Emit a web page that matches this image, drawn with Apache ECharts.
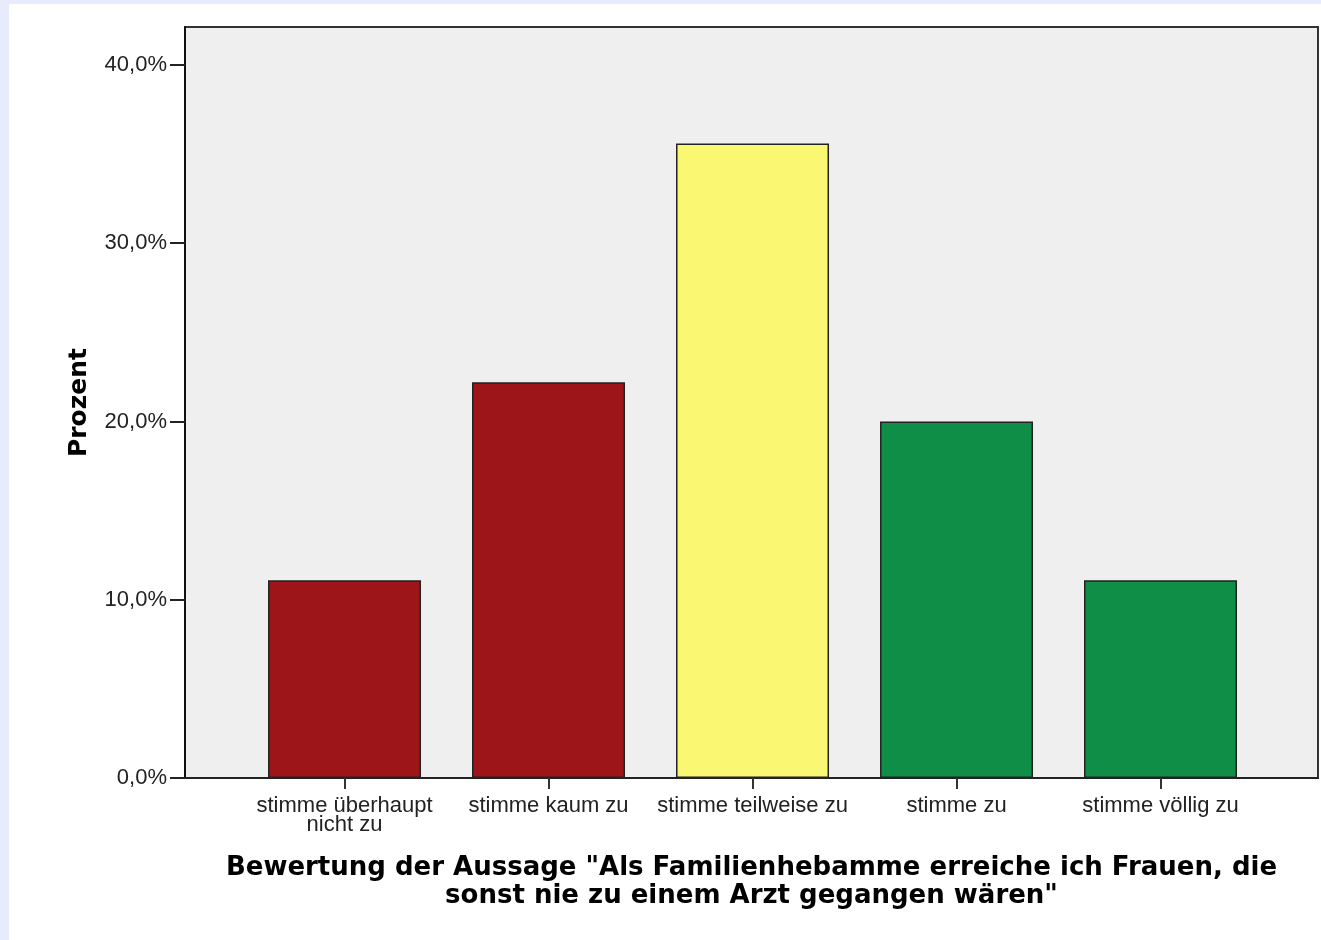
<!DOCTYPE html>
<html>
<head>
<meta charset="utf-8">
<script src="https://cdn.jsdelivr.net/npm/echarts@6/dist/echarts.min.js"></script>
<style>
    html, body {
        margin: 0;
        padding: 0;
        background: #e6ecfb;
    }
    .paper {
        position: absolute;
        left: 9px;
        top: 4px;
        right: 0;
        bottom: 0;
        background: #ffffff;
    }
    #chart {
        position: absolute;
        left: 0;
        top: 0;
        width: 1321px;
        height: 940px;
    }
</style>
</head>
<body>
<div class="paper"></div>
<div id="chart"></div>
<script>
// Werte (Prozent) je Antwortkategorie
const categories = [
    "stimme überhaupt\nnicht zu",
    "stimme kaum zu",
    "stimme teilweise zu",
    "stimme zu",
    "stimme völlig zu"
];
const percents = [11.1, 22.2, 35.6, 20.0, 11.1];
const barColors = ["#9e1519", "#9e1519", "#faf773", "#0f8e48", "#0f8e48"];
const yTicks = [0, 10, 20, 30, 40];
const xTitle = 'Bewertung der Aussage "Als Familienhebamme erreiche ich Frauen, die\nsonst nie zu einem Arzt gegangen wären"';
const yTitle = "Prozent";

const positions = categories.map((c, i) => i);

const chartInstance = echarts.init(document.getElementById("chart"), null, {renderer: "canvas"});

const option = {
    animation: false,
    grid: {
        left: 185,
        right: 3,
        top: 27,
        bottom: 162,
        show: true,
        backgroundColor: "#efefef",
        borderColor: "#333333",
        borderWidth: 2
    },
    xAxis: {
        type: "value",
        min: -0.782,
        max: 4.772,
        splitLine: {show: false},
        axisLine: {
            onZero: false,
            lineStyle: {color: "#222222", width: 2}
        },
        axisTick: {
            show: true,
            length: 11,
            customValues: positions,
            lineStyle: {color: "#333333", width: 2}
        },
        axisLabel: {
            customValues: positions,
            margin: 18,
            color: "#222222",
            fontFamily: "Liberation Sans",
            fontSize: 22,
            lineHeight: 19,
            formatter: (v) => categories[Math.round(v)]
        },
        name: xTitle,
        nameLocation: "middle",
        nameGap: 76,
        nameTextStyle: {
            color: "#000000",
            fontFamily: "DejaVu Sans",
            fontWeight: "bold",
            fontSize: 26,
            lineHeight: 28,
            verticalAlign: "top"
        }
    },
    yAxis: {
        type: "value",
        min: 0,
        max: 42.13,
        splitLine: {show: false},
        axisLine: {
            show: true,
            onZero: false,
            lineStyle: {color: "#111111", width: 2}
        },
        axisTick: {
            show: true,
            length: 15,
            customValues: yTicks,
            lineStyle: {color: "#222222", width: 2}
        },
        axisLabel: {
            customValues: yTicks,
            margin: 18,
            color: "#222222",
            fontFamily: "Liberation Sans",
            fontSize: 22,
            formatter: (v) => v.toFixed(1).replace(".", ",") + "%"
        },
        name: yTitle,
        nameLocation: "middle",
        nameGap: 93,
        nameTextStyle: {
            color: "#000000",
            fontFamily: "DejaVu Sans",
            fontWeight: "bold",
            fontSize: 25
        }
    },
    series: [{
        type: "bar",
        barWidth: 153,
        data: percents.map((v, i) => ({
            value: [positions[i], v],
            itemStyle: {color: barColors[i]}
        })),
        itemStyle: {
            borderColor: "#222222",
            borderWidth: 1.5
        }
    }]
};

chartInstance.setOption(option);
</script>
</body>
</html>
